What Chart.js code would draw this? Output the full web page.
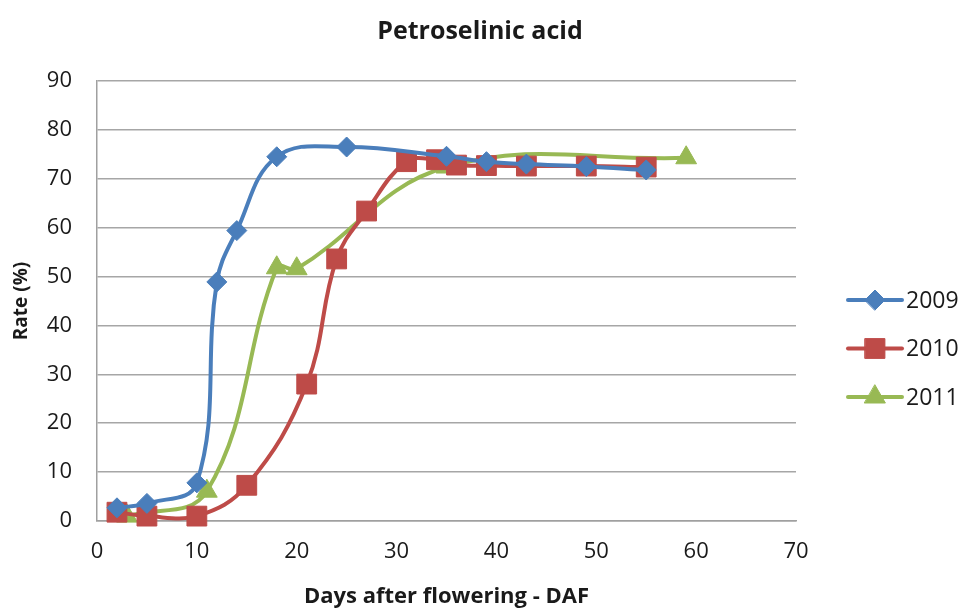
<!DOCTYPE html>
<html>
<head>
<meta charset="utf-8">
<script src="https://cdn.jsdelivr.net/npm/chart.js@4.4.1/dist/chart.umd.min.js"></script>
<style>
  html, body { margin: 0; padding: 0; background: #fff; }
  #wrap { width: 962px; height: 608px; }
</style>
</head>
<body>
<div id="wrap"><canvas id="chart"></canvas></div>
<script>
// days after flowering and rate (%) per year
const days2009 = [2, 5, 10, 12, 14, 18, 25, 35, 39, 43, 49, 55];
const rate2009 = [2.7, 3.6, 7.8, 48.9, 59.4, 74.5, 76.5, 74.6, 73.5, 73.0, 72.5, 71.8];
const days2010 = [2, 5, 10, 15, 21, 24, 27, 31, 34, 36, 39, 43, 49, 55];
const rate2010 = [1.8, 1.0, 1.0, 7.3, 28.0, 53.6, 63.4, 73.5, 73.9, 72.8, 72.7, 72.6, 72.6, 72.4];
const days2011 = [3, 11, 18, 20, 35, 59];
const rate2011 = [1.0, 6.1, 51.8, 51.6, 72.4, 74.3];
const seriesNames = ['2009', '2010', '2011'];
const seriesColors = ['#4a7ebb', '#be4b48', '#98b954'];
const seriesMarkers = ['rectRot', 'rect', 'triangle'];
const markerSizes = [10, 14, 12];

const FONT = '"Open Sans", sans-serif';

function pts(xs, ys) { return xs.map((x, i) => ({ x: x, y: ys[i] })); }
const allPts = [pts(days2009, rate2009), pts(days2010, rate2010), pts(days2011, rate2011)];

const datasets = seriesNames.map((name, i) => ({
  label: name,
  data: allPts[i],
  borderColor: seriesColors[i],
  backgroundColor: seriesColors[i],
  borderWidth: 4,
  tension: 0.4,
  clip: false,
  pointStyle: seriesMarkers[i],
  pointRadius: markerSizes[i],
  pointHoverRadius: markerSizes[i],
  pointBorderWidth: 1,
  pointBorderColor: seriesColors[i],
  pointBackgroundColor: seriesColors[i]
}));

// title centred on the page and legend on the right: line + marker + label
const extras = {
  id: 'extras',
  afterDraw(chart) {
    const ctx = chart.ctx;
    ctx.save();
    ctx.fillStyle = '#1a1a1a';
    ctx.font = 'bold 25px ' + FONT;
    ctx.textAlign = 'center';
    ctx.textBaseline = 'alphabetic';
    ctx.fillText('Petroselinic acid', 480, 39);

    const x0 = 848, y0 = 300, gap = 48.5;
    seriesNames.forEach((name, i) => {
      const y = y0 + i * gap;
      ctx.strokeStyle = seriesColors[i];
      ctx.lineWidth = 4;
      ctx.lineCap = 'round';
      ctx.beginPath();
      ctx.moveTo(x0, y);
      ctx.lineTo(x0 + 54, y);
      ctx.stroke();
      ctx.fillStyle = seriesColors[i];
      ctx.strokeStyle = seriesColors[i];
      ctx.lineWidth = 1;
      Chart.helpers.drawPoint(ctx, {
        pointStyle: seriesMarkers[i], radius: markerSizes[i], rotation: 0, borderWidth: 1
      }, x0 + 27, y);
      ctx.fillStyle = '#1a1a1a';
      ctx.font = '23px ' + FONT;
      ctx.textBaseline = 'middle';
      ctx.textAlign = 'left';
      ctx.fillText(name, x0 + 58, y + 1);
    });
    ctx.restore();
  }
};

new Chart(document.getElementById('chart'), {
  type: 'line',
  data: { datasets: datasets },
  plugins: [extras],
  options: {
    responsive: true,
    maintainAspectRatio: false,
    animation: false,
    layout: { padding: { left: 0, right: 166, top: 81, bottom: 0 } },
    plugins: {
      legend: { display: false },
      tooltip: { enabled: false },
      title: { display: false }
    },
    scales: {
      x: {
        type: 'linear',
        min: 0, max: 70,
        afterFit(scale) { scale.height = 87; },
        ticks: { stepSize: 10, color: '#1a1a1a', font: { family: FONT, size: 22 }, padding: 18 },
        grid: { display: false, drawTicks: false },
        border: { display: true, color: '#a0a0a0', width: 1.5 },
        title: {
          display: true,
          text: 'Days after flowering - DAF',
          color: '#1a1a1a',
          font: { family: FONT, size: 22, weight: 'bold' },
          padding: { top: 0, bottom: -2 }
        }
      },
      y: {
        min: 0, max: 90,
        afterFit(scale) { scale.width = 97; },
        ticks: { stepSize: 10, color: '#1a1a1a', font: { family: FONT, size: 22 }, padding: 25 },
        grid: { color: '#a6a6a6', lineWidth: 1.5, drawTicks: false },
        border: { display: true, color: '#a0a0a0', width: 1.5 },
        title: {
          display: true,
          text: 'Rate (%)',
          color: '#1a1a1a',
          font: { family: FONT, size: 19, weight: 'bold' },
          padding: { top: 10, bottom: 0 }
        }
      }
    }
  }
});
</script>
</body>
</html>
